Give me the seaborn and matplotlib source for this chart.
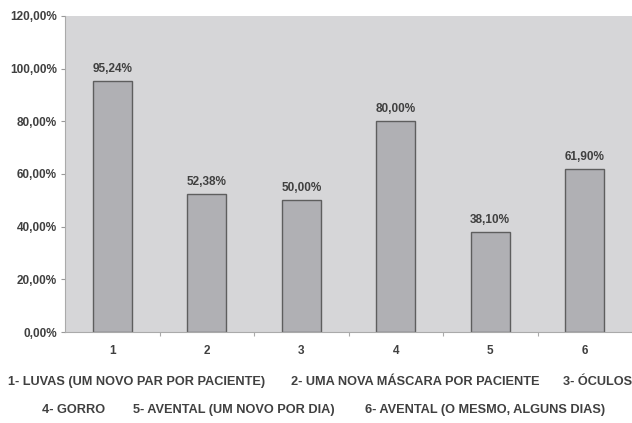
import matplotlib
matplotlib.use("Agg")
import matplotlib.pyplot as plt
import seaborn as sns
import pandas as pd
from matplotlib.ticker import FuncFormatter, FixedLocator

categories = ["1", "2", "3", "4", "5", "6"]
values = [95.24, 52.38, 50.00, 80.00, 38.10, 61.90]
yticks = [0, 20, 40, 60, 80, 100, 120]
legend_row1 = ["1- LUVAS (UM NOVO PAR POR PACIENTE)", "2- UMA NOVA MÁSCARA POR PACIENTE", "3- ÓCULOS"]
legend_row2 = ["4- GORRO", "5- AVENTAL (UM NOVO POR DIA)", "6- AVENTAL (O MESMO, ALGUNS DIAS)"]

sns.set_style("white")
plt.rcParams["font.family"] = ["Liberation Sans", "DejaVu Sans"]

df = pd.DataFrame({"cat": categories, "val": values})

fig = plt.figure(figsize=(6.32, 4.23), dpi=100)
ax = fig.add_axes([65 / 632, (423 - 332) / 423, 1 - 65 / 632, (332 - 16) / 423])
ax.set_facecolor("#d6d6d8")

sns.barplot(data=df, x="cat", y="val", order=categories, color="#b0b0b4",
            edgecolor="#5e5e5e", linewidth=1.0, width=0.41, saturation=1, ax=ax)

txtc = "#404040"
fs = 8.5
for i, v in enumerate(values):
    ax.text(i, v + 2.3, f"{v:.2f}%".replace(".", ","), ha="center", va="bottom",
            fontsize=fs, fontweight="bold", color=txtc)

ax.set_ylim(0, 120)
ax.set_xlim(-0.5, 5.5)
ax.yaxis.set_major_locator(FixedLocator(yticks))
ax.yaxis.set_major_formatter(FuncFormatter(lambda y, p: f"{y:.2f}%".replace(".", ",")))
ax.xaxis.set_minor_locator(FixedLocator([0.5, 1.5, 2.5, 3.5, 4.5]))
ax.tick_params(axis="y", which="major", length=3, width=0.8, color="#999999",
               labelsize=fs, labelcolor=txtc, pad=3, left=True)
ax.tick_params(axis="x", which="major", length=0, labelsize=fs, labelcolor=txtc, pad=9)
ax.tick_params(axis="x", which="minor", length=3, width=0.8, color="#aaaaaa", bottom=True)
for lbl in ax.get_xticklabels() + ax.get_yticklabels():
    lbl.set_fontweight("bold")
ax.set_xlabel("")
ax.set_ylabel("")
for s in ["top", "right"]:
    ax.spines[s].set_visible(False)
ax.spines["left"].set_color("#aaaaaa")
ax.spines["bottom"].set_color("#aaaaaa")
ax.spines["left"].set_linewidth(0.8)
ax.spines["bottom"].set_linewidth(0.8)

lfs = 9.2
row1_x = [8, 291, 563]
row2_x = [42, 133, 365]
for label, x in zip(legend_row1, row1_x):
    fig.text(x / 632, 1 - 382 / 423, label, ha="left", va="center",
             fontsize=lfs, fontweight="bold", color=txtc)
for label, x in zip(legend_row2, row2_x):
    fig.text(x / 632, 1 - 410 / 423, label, ha="left", va="center",
             fontsize=lfs, fontweight="bold", color=txtc)

fig.savefig("out.png", dpi=100, facecolor="white")
